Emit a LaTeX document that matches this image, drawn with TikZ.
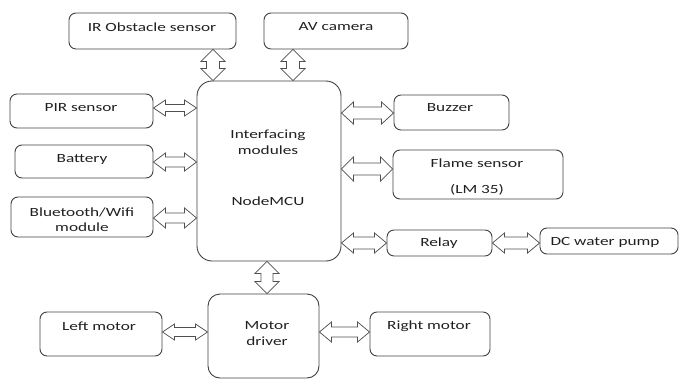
\documentclass[tikz,border=0pt]{standalone}
\usepackage{fontspec}
\setmainfont{Carlito}[FakeStretch=1.38]
\usetikzlibrary{calc}
\definecolor{boxcol}{HTML}{404040}
\definecolor{arrcol}{HTML}{505050}
\definecolor{txtcol}{HTML}{202020}
\tikzset{
  box/.style={draw=boxcol, line width=0.9pt, rounded corners=7pt, inner sep=0pt},
  txt/.style={text=txtcol, inner sep=0pt, font=\fontsize{12.5}{14}\selectfont},
  arr/.style={draw=arrcol, line width=0.75pt, fill=white, line join=miter},
}
\newcommand\bx[6][]{%
  \node[box,#1, minimum width={#4-#2}, minimum height={#5-#3}] (#6) at ({(#2+#4)/2},{(#3+#5)/2}) {};}
\newcommand\harr[5]{%
  \draw[arr] let \p1=(#1), \p2=(#2), \p3=(0,#3) in
    (\x1,\y3) -- (\x1+12pt,\y3+#4pt) -- (\x1+12pt,\y3+#5pt) -- (\x2-12pt,\y3+#5pt) -- (\x2-12pt,\y3+#4pt)
    -- (\x2,\y3) -- (\x2-12pt,\y3-#4pt) -- (\x2-12pt,\y3-#5pt) -- (\x1+12pt,\y3-#5pt) -- (\x1+12pt,\y3-#4pt) -- cycle;}
\newcommand\varr[5]{%
  \draw[arr] let \p1=(#1), \p2=(#2), \p3=(#3,0) in
    (\x3,\y1) -- (\x3+#4pt,\y1-12pt) -- (\x3+#5pt,\y1-12pt) -- (\x3+#5pt,\y2+12pt) -- (\x3+#4pt,\y2+12pt)
    -- (\x3,\y2) -- (\x3-#4pt,\y2+12pt) -- (\x3-#5pt,\y2+12pt) -- (\x3-#5pt,\y1-12pt) -- (\x3-#4pt,\y1-12pt) -- cycle;}
\begin{document}
\begin{tikzpicture}[x=1pt,y=-1pt]
\useasboundingbox (0,0) rectangle (679,380);
% boxes
\bx{69}{13}{236}{49}{ir}
\bx{264}{13}{408}{49}{av}
\bx[rounded corners=15pt]{197}{81}{341}{261}{main}
\bx{10}{94}{153}{128}{pir}
\bx{15}{145}{153}{178}{batt}
\bx{11}{197}{153}{237}{bt}
\bx{394}{95}{509}{130}{buzz}
\bx{393}{150}{563}{199}{flame}
\bx{387}{230}{492}{256}{relay}
\bx{540}{228}{678}{254}{pump}
\bx[rounded corners=12pt]{208}{294}{319}{378}{md}
\bx{40}{312}{162}{356}{lm}
\bx{370}{312}{490}{356}{rm}
% texts
\node[txt] (tir) at (152,27) {IR Obstacle sensor};
\node[txt] (tav) at (336,27) {AV camera};
\node[txt] (tm1) at (268,135) {Interfacing};
\node[txt] (tm2) at (268,150) {modules};
\node[txt] (tm3) at (268,201) {NodeMCU};
\node[txt] (tpir) at (81,108) {PIR sensor};
\node[txt] (tbatt) at (82,159) {Battery};
\node[txt] (tbt1) at (82,212) {Bluetooth/Wifi};
\node[txt] (tbt2) at (82,227) {module};
\node[txt] (tbuzz) at (450,108) {Buzzer};
\node[txt] (tfl1) at (477,163) {Flame sensor};
\node[txt] (tfl2) at (477,190) {(LM 35)};
\node[txt] (trel) at (439,243) {Relay};
\node[txt] (tpump) at (605,242) {DC water pump};
\node[txt] (tmd1) at (267,326) {Motor};
\node[txt] (tmd2) at (267,341) {driver};
\node[txt] (tlm) at (99,326) {Left motor};
\node[txt] (trm) at (429,326) {Right motor};
% arrows
\varr{ir.south}{main.north}{213}{12}{6.5}
\varr{av.south}{main.north}{293}{12}{6.5}
\varr{main.south}{md.north}{267}{12}{6}
\harr{pir.east}{main.west}{108}{8}{3.5}
\harr{batt.east}{main.west}{162}{9}{5}
\harr{bt.east}{main.west}{218}{10}{5}
\harr{main.east}{buzz.west}{113}{11}{6}
\harr{main.east}{flame.west}{169}{12}{6}
\harr{main.east}{relay.west}{243}{10}{6}
\harr{relay.east}{pump.west}{243}{10}{6}
\harr{lm.east}{md.west}{332}{8}{4.5}
\harr{md.east}{rm.west}{332}{10}{5}
\end{tikzpicture}
\end{document}
